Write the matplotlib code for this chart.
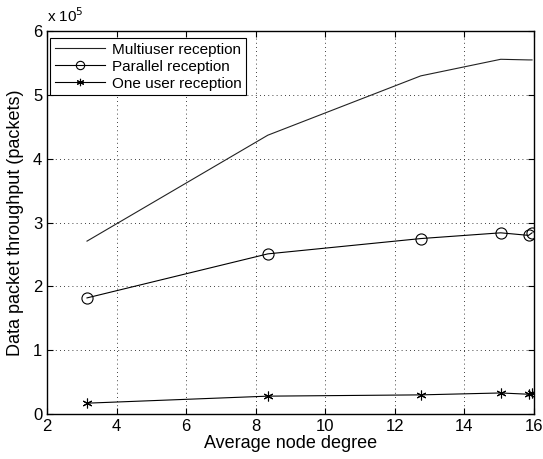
import matplotlib
matplotlib.use("Agg")
import matplotlib.pyplot as plt
import numpy as np

plt.rcParams['font.family'] = ['Liberation Sans', 'DejaVu Sans']

degree = [3.15, 8.35, 12.75, 15.05, 15.85, 15.95]
multiuser = [2.71, 4.37, 5.30, 5.56, 5.55, 5.55]
parallel = [1.82, 2.51, 2.75, 2.84, 2.80, 2.84]
oneuser = [0.17, 0.28, 0.30, 0.33, 0.31, 0.33]
scale = 1e5

fig = plt.figure(figsize=(5.43, 4.59), dpi=100)
ax = fig.add_axes([0.0866, 0.098, 0.8964, 0.834])

ax.plot(degree, np.array(multiuser) * scale, color='#222222', lw=0.8, label='Multiuser reception')
ax.plot(degree, np.array(parallel) * scale, color='black', lw=0.8, marker='o', ms=8,
        mfc='none', mec='black', mew=0.8, label='Parallel reception')
ax.plot(degree, np.array(oneuser) * scale, color='black', lw=0.8, marker=(6, 2, 0), ms=7,
        mec='black', mew=0.8, label='One user reception')

ax.set_xlim(2, 16)
ax.set_ylim(0, 6e5)
ax.set_xticks([2, 4, 6, 8, 10, 12, 14, 16])
ax.set_yticks(np.arange(0, 7) * scale)
ax.set_yticklabels([str(i) for i in range(7)])
ax.tick_params(direction='in', labelsize=12, length=4, width=0.8, top=True, right=True)
ax.grid(True, linestyle=(0, (1, 4)), color='black', lw=0.6)
for s in ax.spines.values():
    s.set_linewidth(1.0)

ax.set_xlabel('Average node degree', fontsize=13, labelpad=1)
ax.set_ylabel('Data packet throughput (packets)', fontsize=13, labelpad=6)
ax.text(0.0, 1.015, r'x 10$^5$', transform=ax.transAxes, fontsize=11, ha='left', va='bottom')

leg = ax.legend(loc='upper left', bbox_to_anchor=(0.006, 0.982), fontsize=11, frameon=True,
                fancybox=False, edgecolor='black', framealpha=1, borderaxespad=0,
                handlelength=3.3, borderpad=0.3, labelspacing=0.2, handletextpad=0.45,
                markerscale=0.75)
leg.get_frame().set_linewidth(0.8)

fig.savefig('out.png', dpi=100)
